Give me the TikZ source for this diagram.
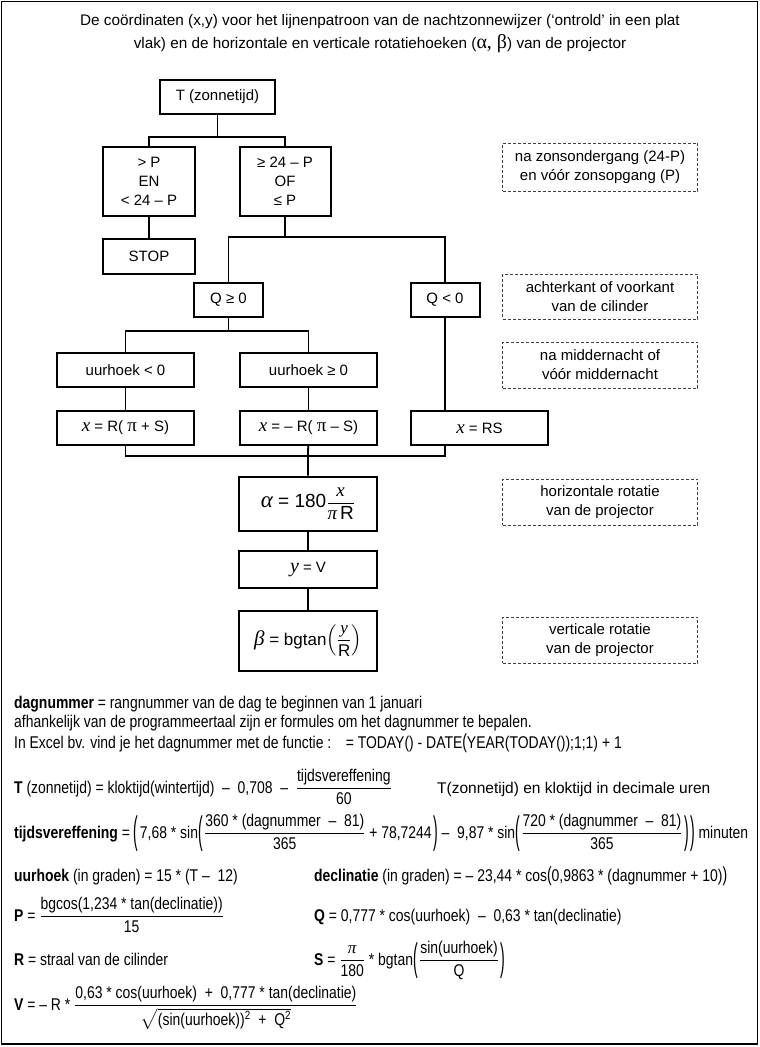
\documentclass[tikz,border=0pt]{standalone}
\usepackage{amsmath}
\usepackage{graphicx}
\usepackage{fontspec}
\setmainfont{Liberation Sans}
\newfontfamily\narrowfont[FakeStretch=0.82]{Liberation Sans}
\newfontfamily\seriffont{Liberation Serif}
\usetikzlibrary{positioning,calc}

\newcommand{\boxfont}{\fontsize{15}{19}\selectfont}
\newcommand{\formfont}{\narrowfont\fontsize{17}{20}\selectfont}
\newcommand{\mi}[1]{{\seriffont\itshape #1}}
% thin tall parentheses round a fraction
\newcommand{\lp}{\mathopen{\raisebox{-0.3em}{\scalebox{1}[2.25]{(}}}\mkern1.5mu}
\newcommand{\rp}{\mkern1.5mu\mathclose{\raisebox{-0.3em}{\scalebox{1}[2.25]{)}}}}

\begin{document}
\begin{tikzpicture}[
  x=1pt, y=-1pt,
  box/.style={draw, line width=2pt, align=center, inner sep=1pt, font=\boxfont},
  note/.style={draw=black!75, dash pattern=on 3pt off 2pt, line width=0.9pt, align=center,
               inner sep=1pt, font=\boxfont, minimum width=195, minimum height=46},
  link/.style={line width=1.8pt},
  txt/.style={anchor=base west, inner sep=0pt, font=\formfont},
]
\useasboundingbox (0,0) rectangle (760,1047);
\draw[line width=1.8pt] (1.5,1.5) rectangle (757.5,1044);

% ---- title ----
\node[font=\fontsize{15.3}{23}\selectfont, align=center] (title) at (380,34)
  {De coördinaten (x,y) voor het lijnenpatroon van de nachtzonnewijzer (‘ontrold’ in een plat\\
   vlak) en de horizontale en verticale rotatiehoeken ({\seriffont\fontsize{20}{20}\selectfont α, β}) van de projector};

% ---- flowchart ----
\node[box, minimum width=115, minimum height=34] (tz) at (217.5,97) {T (zonnetijd)};
\node[box, minimum width=92, minimum height=69] (day) at (149,181.5) {> P\\EN\\< 24 – P};
\node[box, minimum width=91, minimum height=69] (night) at (285,181.5) {≥ 24 – P\\OF\\≤ P};
\node[box, minimum width=92, minimum height=35] (stop) at (149,256) {STOP};
\node[box, minimum width=69, minimum height=34] (qpos) at (228.5,300) {Q ≥ 0};
\node[box, minimum width=69, minimum height=34] (qneg) at (445,300) {Q < 0};
\node[box, minimum width=137, minimum height=34] (uneg) at (125.5,370) {uurhoek < 0};
\node[box, minimum width=137, minimum height=34] (upos) at (308.5,370) {uurhoek ≥ 0};
\node[box, minimum width=137, minimum height=34] (xneg) at (125.5,428)
  {{\fontsize{19}{19}\selectfont\mi{x}} = R( {\seriffont\fontsize{19}{19}\selectfont π} + S)};
\node[box, minimum width=137, minimum height=34] (xpos) at (308.5,428)
  {{\fontsize{19}{19}\selectfont\mi{x}} = – R( {\seriffont\fontsize{19}{19}\selectfont π} – S)};
\node[box, minimum width=137, minimum height=34] (xrs) at (479.5,428)
  {{\fontsize{19}{19}\selectfont\mi{x}} = RS};
\node[box, minimum width=138, minimum height=54, font=\fontsize{19}{21}\selectfont] (alpha) at (308,503.5)
  {{\fontsize{23}{23}\selectfont\mi{α}} = 180$\dfrac{\text{\mi{x}}}{\text{\mi{π}\,R}}$};
\node[box, minimum width=138, minimum height=37] (ycoord) at (308,569.5)
  {{\fontsize{20}{20}\selectfont\mi{y}} = V};
\node[box, minimum width=138, minimum height=60, font=\fontsize{17}{20}\selectfont] (beta) at (308,641)
  {{\fontsize{21}{21}\selectfont\mi{β}} = bgtan$\left(\dfrac{\text{\mi{y}}}{\text{R}}\right)$};

% ---- notes ----
\node[note, minimum height=48] (nsun) at (600,167) {na zonsondergang (24-P)\\ en vóór zonsopgang (P)};
\node[note, minimum height=45] (nside) at (600,296.5) {achterkant of voorkant\\van de cilinder};
\node[note] (nmid) at (600,365) {na middernacht of\\vóór middernacht};
\node[note] (nhor) at (600,502) {horizontale rotatie\\van de projector};
\node[note] (nver) at (600,640) {verticale rotatie\\van de projector};

% ---- connectors ----
\coordinate (j1) at (217.5,137);
\coordinate (j2) at (285,237);
\coordinate (j3) at (228.5,331);
\coordinate (j4) at (308,456);
\draw[link] (tz) -- (j1);
\draw[link] (day.north) |- (j1) -| (night.north);
\draw[link] (day) -- (stop);
\draw[link] (night) -- (j2);
\draw[link] (qpos.north) |- (j2) -| (qneg.north);
\draw[link] (qpos) -- (j3);
\draw[link] (uneg.north) |- (j3) -| (upos.north);
\draw[link] (uneg) -- (xneg);
\draw[link] (upos) -- (xpos);
\draw[link] (qneg.south) -- (qneg.south |- xrs.north);
\draw[link] (xneg.south) |- (j4) -| (xrs.south -| qneg.south);
\draw[link] (xpos) -- (j4) -- (alpha);
\draw[link] (alpha) -- (ycoord);
\draw[link] (ycoord) -- (beta);

% ---- formulas ----
\node[txt] (l1) at (14,708) {\textbf{dagnummer} = rangnummer van de dag te beginnen van 1 januari};
\node[txt] (l2) at (14,727) {afhankelijk van de programmeertaal zijn er formules om het dagnummer te bepalen.};
\node[txt] (l3) at (14,748) {In Excel bv. vind je het dagnummer met de functie :};
\node[txt, right=14pt of l3.base east, anchor=base west] (l3b)
  {= TODAY() - DATE\scalebox{1}[1.2]{(}YEAR(TODAY());1;1) + 1};
\node[txt] (ft) at (14,793)
  {\textbf{T} (zonnetijd) = kloktijd(wintertijd) \ – \ 0,708 \ – \ $\dfrac{\text{tijdsvereffening}}{\text{60}}$};
\node[txt, font=\fontsize{15.5}{19}\selectfont] (ftn) at (437,793) {T(zonnetijd) en kloktijd in decimale uren};
\node[txt] (fe) at (14,838)
  {\textbf{tijdsvereffening} = $\lp\text{7,68 * sin}\lp\dfrac{\text{360 * (dagnummer \ – \ 81)}}{\text{365}}\text{ + 78,7244}\rp\text{  – \ 9,87 * sin}\lp\dfrac{\text{720 * (dagnummer \ – \ 81)}}{\text{365}}\rp\rp$ minuten};
\node[txt] (fu) at (14,881) {\textbf{uurhoek} (in graden) = 15 * (T – \ 12)};
\node[txt] (fd) at (314,881) {\textbf{declinatie} (in graden) = – 23,44 * cos\scalebox{1}[1.2]{(}0,9863 * (dagnummer + 10)\scalebox{1}[1.2]{)}};
\node[txt] (fp) at (14,921) {\textbf{P} = $\dfrac{\text{bgcos(1,234 * tan(declinatie))}}{\text{15}}$};
\node[txt] (fq) at (314,921) {\textbf{Q} = 0,777 * cos(uurhoek) \ – \ 0,63 * tan(declinatie)};
\node[txt] (fr) at (14,965) {\textbf{R} = straal van de cilinder};
\node[txt] (fs) at (314,965)
  {\textbf{S} = $\dfrac{\text{\mi{π}}}{\text{180}}$ * bgtan$\lp\dfrac{\text{sin(uurhoek)}}{\text{Q}}\rp$};
\node[txt] (fv) at (14,1010)
  {\textbf{V} = – R * $\dfrac{\text{0,63 * cos(uurhoek) \ + \ 0,777 * tan(declinatie)}}{\sqrt{\text{(sin(uurhoek))\textsuperscript{2} \ + \ Q\textsuperscript{2}}}}$};
\end{tikzpicture}
\end{document}
